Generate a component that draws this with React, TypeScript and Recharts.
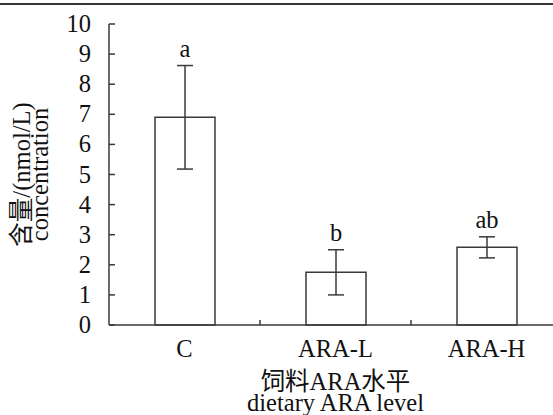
import React from 'react';
import { BarChart, Bar, XAxis, YAxis, ErrorBar, LabelList, Label } from 'recharts';

const groups = ['C', 'ARA-L', 'ARA-H'];
const means = [6.9, 1.75, 2.58];
const errors = [1.72, 0.75, 0.35];
const letters = ['a', 'b', 'ab'];
const yTicks = [0, 1, 2, 3, 4, 5, 6, 7, 8, 9, 10];

const data = groups.map((g, i) => ({ group: g, mean: means[i], sd: errors[i], letter: letters[i] }));

const FONT = '"Liberation Serif", "Noto Sans CJK SC", serif';
const INK = '#3a3a3a';
const FS = 24.5;
const Y_MARGIN = 18;
const txt: React.CSSProperties = { fontFamily: FONT, fontSize: FS, fill: '#111' };

const YTick = (props: any) => {
  const { x, y, payload } = props;
  const ax = x + Y_MARGIN;
  return (
    <g>
      <line x1={ax} x2={ax + 6} y1={y} y2={y} stroke={INK} strokeWidth={1.5} />
      <text x={x} y={y} dy={8} textAnchor="end" style={txt}>
        {payload.value}
      </text>
    </g>
  );
};

const XTick = (props: any) => {
  const { x, y, payload, width, visibleTicksCount } = props;
  const half = (width || 453) / ((visibleTicksCount || groups.length) * 2);
  return (
    <g>
      <line x1={x + half} x2={x + half} y1={y} y2={y - 5} stroke={INK} strokeWidth={1.5} />
      <text x={x} y={y + 32} textAnchor="middle" style={txt}>
        {payload.value}
      </text>
    </g>
  );
};

const XTitle = (props: any) => {
  const vb = props.viewBox || {};
  const cx = vb.x + vb.width / 2;
  return (
    <g>
      <text x={cx} y={vb.y + 65} textAnchor="middle" style={txt}>饲料ARA水平</text>
      <text x={cx} y={vb.y + 86} textAnchor="middle" style={txt}>dietary ARA level</text>
    </g>
  );
};

const YTitle = (props: any) => {
  const vb = props.viewBox || {};
  const cy = vb.y + vb.height / 2;
  return (
    <g>
      <text x={30} y={cy} textAnchor="middle" transform={`rotate(-90, 30, ${cy})`} style={txt}>含量/(nmol/L)</text>
      <text x={48} y={cy} textAnchor="middle" transform={`rotate(-90, 48, ${cy})`} style={txt}>concentration</text>
    </g>
  );
};

const Letter = (props: any) => {
  const vb = props.viewBox || props;
  const { x, y, width, height } = vb;
  const i = props.index;
  const errTop = y - (errors[i] * height) / means[i];
  return (
    <text x={x + width / 2} y={errTop - 9} textAnchor="middle" style={txt}>
      {letters[i]}
    </text>
  );
};

export default function App() {
  return (
    <div style={{ position: 'absolute', left: 0, top: 0, width: 553, height: 415, overflow: 'hidden', background: '#fff' }}>
      <div style={{ position: 'absolute', left: 0, top: 3, width: 553, height: 2, background: '#333' }} />
      <BarChart width={580} height={415} data={data} margin={{ top: 24, right: 18, bottom: 0, left: 0 }}>
        <XAxis
          dataKey="group"
          height={90}
          interval={0}
          tickLine={false}
          tickSize={0}
          tickMargin={0}
          axisLine={{ stroke: INK, strokeWidth: 1.5 }}
          tick={<XTick />}
        >
          <Label content={<XTitle />} />
        </XAxis>
        <YAxis
          width={109}
          domain={[0, 10]}
          ticks={yTicks}
          interval={0}
          tickLine={false}
          tickSize={0}
          tickMargin={Y_MARGIN}
          axisLine={{ stroke: INK, strokeWidth: 1.5 }}
          tick={<YTick />}
        >
          <Label content={<YTitle />} />
        </YAxis>
        <Bar dataKey="mean" fill="#fff" stroke={INK} strokeWidth={1.5} barSize={60} isAnimationActive={false}>
          <ErrorBar dataKey="sd" width={8} stroke={INK} strokeWidth={1.5} />
          <LabelList dataKey="letter" content={<Letter />} />
        </Bar>
      </BarChart>
    </div>
  );
}
